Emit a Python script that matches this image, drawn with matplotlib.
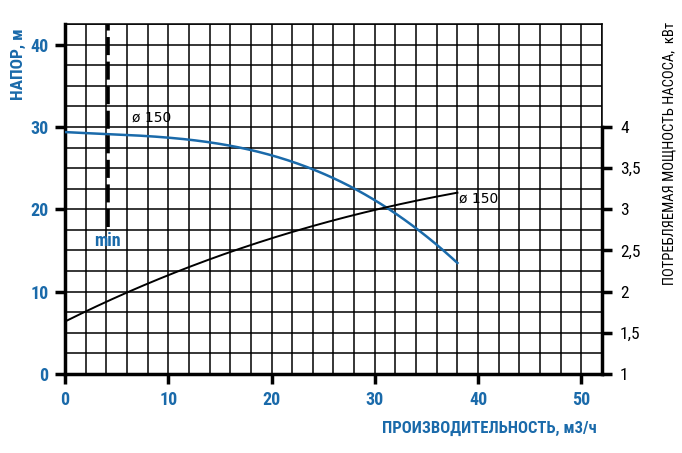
import numpy as np
import matplotlib.pyplot as plt
from matplotlib.ticker import MultipleLocator, FuncFormatter

# data
flow_head = [0, 4, 8, 12, 16, 20, 23.3, 28, 31, 34.1, 38]
head = [29.35, 29.2, 28.9, 28.4, 27.7, 26.5, 25.3, 22.6, 20.2, 17.6, 13.5]

flow_pow = [0, 2, 6, 10, 16.9, 22.7, 28, 31, 35.8, 38]
power = [1.64, 1.75, 2.0, 2.2, 2.51, 2.76, 2.92, 3.03, 3.15, 3.2]

q_min = 4.15
blue = '#1a6aaa'
cond = ['Roboto Condensed', 'DejaVu Sans']

fig = plt.figure(figsize=(6.82, 4.53), dpi=100)
ax = fig.add_axes([0.0953, 0.1744, 0.7874, 0.7726])

ax.set_xlim(0, 52)
ax.set_ylim(0, 42.5)
ax.xaxis.set_major_locator(MultipleLocator(10))
ax.xaxis.set_minor_locator(MultipleLocator(2))
ax.yaxis.set_major_locator(MultipleLocator(10))
ax.yaxis.set_minor_locator(MultipleLocator(2.5))
ax.grid(which='both', color='black', lw=1.1)
ax.set_axisbelow(True)

ax.tick_params(which='major', direction='out', length=7, width=2.5, colors='black',
               labelcolor=blue, labelsize=13, pad=5)
ax.tick_params(which='minor', length=0)
for lbl in ax.get_xticklabels() + ax.get_yticklabels():
    lbl.set_fontweight('bold')
    lbl.set_family(cond)
ax.spines['left'].set_linewidth(2.5)
ax.spines['bottom'].set_linewidth(2.5)
ax.spines['top'].set_linewidth(1.1)
ax.spines['right'].set_linewidth(1.1)

xs = np.linspace(0, 38, 200)
hc = np.polyfit(flow_head, head, 4)
ax.plot(xs, np.polyval(hc, xs), color=blue, lw=1.8, zorder=3)

ax.plot([q_min, q_min], [17.8, 42.5], color='black', lw=2.6, dashes=(5, 1.8), zorder=3)
ax.text(q_min, 16.1, 'min', color=blue, fontsize=13, fontweight='bold',
        family=cond, ha='center', va='center')
ax.text(6.5, 31.1, 'ø 150', fontsize=10, ha='left', va='center')

ax.set_ylabel('НАПОР, м', color=blue, fontsize=12.5, fontweight='bold', family=cond)
ax.yaxis.set_label_coords(-0.072, 0.885)
ax.set_xlabel('ПРОИЗВОДИТЕЛЬНОСТЬ, м3/ч', color=blue, fontsize=12,
              fontweight='bold', family=cond)
ax.xaxis.set_label_coords(0.79, -0.135)

# power axis
ax2 = ax.twinx()
ax2.set_ylim(1, 5.25)
ax2.set_yticks(np.arange(1, 4.01, 0.5))
ax2.yaxis.set_major_formatter(FuncFormatter(lambda v, p: f'{v:g}'.replace('.', ',')))
ax2.spines['right'].set_bounds(1, 4)
ax2.spines['right'].set_linewidth(2.5)
for s in ['left', 'top', 'bottom']:
    ax2.spines[s].set_visible(False)
ax2.tick_params(direction='out', length=7, width=2.5, labelsize=12.5, pad=6)
for lbl in ax2.get_yticklabels():
    lbl.set_family(cond)

pc = np.polyfit(flow_pow, power, 3)
ax2.plot(xs, np.polyval(pc, xs), color='black', lw=1.4, zorder=3)
ax2.text(38.2, 3.13, 'ø 150', fontsize=10, ha='left', va='center')

ax2.set_ylabel('ПОТРЕБЛЯЕМАЯ МОЩНОСТЬ НАСОСА,  кВт', fontsize=10.5, family=cond)
ax2.yaxis.set_label_coords(1.113, 0.63)

fig.savefig('out.png', dpi=100)
